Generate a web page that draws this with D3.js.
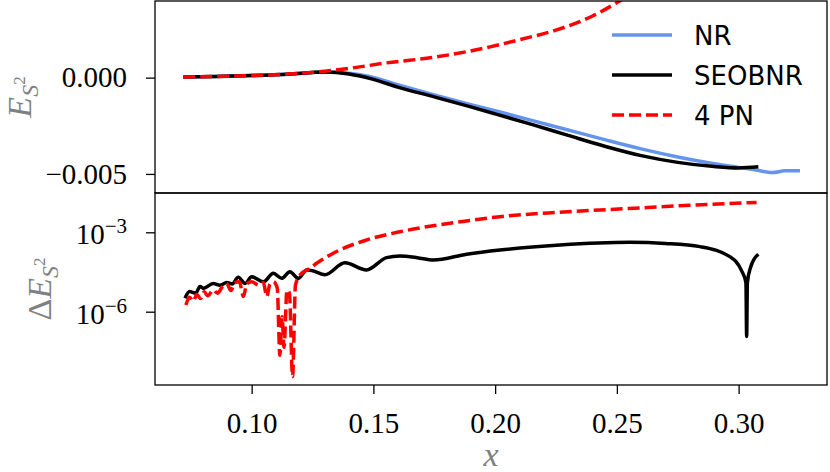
<!DOCTYPE html>
<html>
<head>
<meta charset="utf-8">
<script src="https://cdn.jsdelivr.net/npm/d3@7"></script>
<style>
  body { margin: 0; background: #fff; }
  svg { display: block; }
</style>
</head>
<body>
<div class="display"></div>
<script>
// Energy (top) and its error (bottom) against x

const WIDTH = 830;
const HEIGHT = 472;
const LEFT = 155; // left edge of both panels
const RIGHT = 827; // right edge of both panels
const TOP = 1; // top of upper panel
const MID = 193; // shared border between panels
const BOTTOM = 385; // bottom of lower panel
const SERIF = '"Liberation Serif", "Times New Roman", serif';
const LW = 3.5; // line width of curves

// upper panel: E_{S^2}
const nrX = [0.0719, 0.085, 0.10, 0.115, 0.13, 0.14, 0.15, 0.16, 0.175, 0.19, 0.20, 0.215, 0.23, 0.245, 0.26, 0.275, 0.29, 0.30, 0.306, 0.314, 0.319, 0.3252];
const nrE = [0.00003, 0.00006, 0.00011, 0.00018, 0.00029, 0.00023, 0.00001, -0.00037, -0.00090, -0.00140, -0.00172, -0.00222, -0.00272, -0.00322, -0.00370, -0.00412, -0.00447, -0.00466, -0.00477, -0.00493, -0.00484, -0.00483];

const seobX = [0.0719, 0.085, 0.10, 0.115, 0.13, 0.14, 0.15, 0.16, 0.175, 0.19, 0.20, 0.215, 0.23, 0.245, 0.26, 0.275, 0.29, 0.30, 0.3081];
const seobE = [0.00003, 0.00006, 0.00011, 0.00018, 0.00029, 0.00019, -0.00009, -0.00049, -0.00100, -0.00152, -0.00188, -0.00243, -0.00300, -0.00356, -0.00405, -0.00440, -0.00462, -0.00469, -0.00463];

const pnX = [0.0719, 0.085, 0.10, 0.115, 0.13, 0.14, 0.155, 0.175, 0.1979, 0.21, 0.2253, 0.24, 0.2506, 0.26, 0.27];
const pnE = [0.00003, 0.00006, 0.00011, 0.00019, 0.00033, 0.00048, 0.00076, 0.00106, 0.0016, 0.00197, 0.00248, 0.0032, 0.00394, 0.0047, 0.0056];

// lower panel: Delta E_{S^2}
const seobDX = [0.0726, 0.0745, 0.0770, 0.0788, 0.0802, 0.0842, 0.0870, 0.0897, 0.0920, 0.0945, 0.0973, 0.1000, 0.1048, 0.1089, 0.1123, 0.1157, 0.1192, 0.1226, 0.1250, 0.1301, 0.1383, 0.1472, 0.1554, 0.1609, 0.1680, 0.1746, 0.1883, 0.2020, 0.2266, 0.2554, 0.2700, 0.2841, 0.2964, 0.3012, 0.3030, 0.3033, 0.3036, 0.3050, 0.3081];
const seobDE = [3.24e-6, 5.75e-6, 5.01e-6, 8.91e-6, 7.59e-6, 1.17e-5, 1.0e-5, 1.26e-5, 1.12e-5, 2.0e-5, 1.17e-5, 2.09e-5, 1.35e-5, 2.82e-5, 1.82e-5, 3.24e-5, 1.82e-5, 3.80e-5, 3.55e-5, 2.51e-5, 7.08e-5, 3.80e-5, 1.10e-4, 1.26e-4, 1.10e-4, 8.91e-5, 1.48e-4, 2.14e-4, 3.31e-4, 4.17e-4, 3.80e-4, 2.88e-4, 1.20e-4, 3.55e-5, 1.26e-5, 1.15e-7, 1.26e-5, 5.01e-5, 1.48e-4];

const pnDX = [0.0730, 0.0745, 0.0760, 0.0775, 0.0790, 0.0805, 0.0820, 0.0842, 0.0860, 0.0880, 0.0897, 0.0915, 0.0930, 0.0950, 0.0966, 0.0980, 0.1000, 0.1030, 0.1048, 0.1062, 0.1075, 0.1089, 0.1105, 0.1116, 0.1125, 0.1133, 0.1145, 0.1155, 0.1168, 0.1180, 0.1199, 0.1240, 0.1267, 0.1335, 0.1472, 0.1609, 0.1746, 0.1883, 0.2020, 0.2266, 0.2550, 0.2800, 0.3074];
const pnDE = [1.78e-6, 3.55e-6, 2.51e-6, 4.47e-6, 3.16e-6, 5.62e-6, 3.98e-6, 6.61e-6, 5.01e-6, 8.91e-6, 1.17e-5, 6.31e-6, 1.26e-5, 1.35e-5, 3.72e-6, 1.12e-5, 1.35e-5, 1.0e-5, 1.26e-5, 3.72e-6, 1.12e-5, 1.35e-5, 7.94e-6, 2.24e-8, 6.46e-7, 4.47e-8, 6.61e-6, 5.01e-6, 3.55e-9, 1.0e-5, 2.45e-5, 4.37e-5, 6.76e-5, 1.62e-4, 5.13e-4, 1.05e-3, 1.78e-3, 2.69e-3, 3.89e-3, 5.75e-3, 7.94e-3, 1.05e-2, 1.35e-2];

const xTicks = [0.10, 0.15, 0.20, 0.25, 0.30];
const topTicks = [0, -0.005];
const botTicks = [1e-3, 1e-6];
const botTickExp = ['−3', '−6'];

const legendItems = [
  { name: 'NR', color: '#6495ed', dash: null },
  { name: 'SEOBNR', color: '#000', dash: null },
  { name: '4 PN', color: '#ff0000', dash: '12,5' }
];

const svg = d3.select('.display')
  .append('svg')
  .attr('width', WIDTH)
  .attr('height', HEIGHT);

const x = d3.scaleLinear().domain([0.0603, 0.3363]).range([LEFT, RIGHT]);
const yTop = d3.scaleLinear().domain([-0.00599, 0.00398]).range([MID, TOP]);
const yBot = d3.scaleLog().domain([Math.pow(10, -8.77), Math.pow(10, -1.515)]).range([BOTTOM, MID]);

const defs = svg.append('defs');
defs.append('clipPath').attr('id', 'clip-top')
  .append('rect').attr('x', LEFT).attr('y', TOP).attr('width', RIGHT - LEFT).attr('height', MID - TOP);
defs.append('clipPath').attr('id', 'clip-bot')
  .append('rect').attr('x', LEFT).attr('y', MID).attr('width', RIGHT - LEFT).attr('height', BOTTOM - MID);

function drawLine(g, xs, ys, yScale, color, dash) {
  const pts = xs.map((d, i) => [d, ys[i]]);
  const line = d3.line()
    .x(d => x(d[0]))
    .y(d => yScale(d[1]))
    .curve(d3.curveMonotoneX);
  g.append('path')
    .datum(pts)
    .attr('d', line)
    .attr('fill', 'none')
    .attr('stroke', color)
    .attr('stroke-width', LW)
    .attr('stroke-linejoin', 'round')
    .attr('stroke-dasharray', dash);
}

// upper panel curves
const topG = svg.append('g').attr('clip-path', 'url(#clip-top)');
drawLine(topG, nrX, nrE, yTop, '#6495ed', null);
drawLine(topG, seobX, seobE, yTop, '#000', null);
drawLine(topG, pnX, pnE, yTop, '#ff0000', '12,5');

// lower panel curves
const botG = svg.append('g').attr('clip-path', 'url(#clip-bot)');
drawLine(botG, seobDX, seobDE, yBot, '#000', null);
drawLine(botG, pnDX, pnDE, yBot, '#ff0000', '12,5');

// frames
[[TOP, MID], [MID, BOTTOM]].forEach(([t, b]) => {
  svg.append('rect')
    .attr('x', LEFT).attr('y', t)
    .attr('width', RIGHT - LEFT).attr('height', b - t)
    .attr('fill', 'none')
    .attr('stroke', '#000')
    .attr('stroke-width', 1.3);
});

// axes
function styleAxis(g) {
  g.select('.domain').remove();
  g.selectAll('.tick line').attr('stroke', '#000').attr('stroke-width', 1.3);
  g.selectAll('.tick text')
    .style('font-family', SERIF)
    .style('font-size', '29px')
    .attr('fill', '#000');
}

svg.append('g')
  .attr('transform', `translate(0,${BOTTOM})`)
  .call(d3.axisBottom(x).tickValues(xTicks).tickFormat(d3.format('.2f')).tickSize(9).tickPadding(18))
  .call(styleAxis);

svg.append('g')
  .attr('transform', `translate(${LEFT},0)`)
  .call(d3.axisLeft(yTop).tickValues(topTicks).tickFormat(d3.format('.3f')).tickSize(9).tickPadding(19))
  .call(styleAxis);

const botAxis = svg.append('g')
  .attr('transform', `translate(${LEFT},0)`)
  .call(d3.axisLeft(yBot).tickValues(botTicks).tickFormat(() => '').tickSize(9).tickPadding(19))
  .call(styleAxis);

botAxis.selectAll('.tick text')
  .attr('dy', '0.4em')
  .each(function(d, i) {
    const t = d3.select(this);
    t.append('tspan').text('10');
    t.append('tspan').attr('dy', -11).style('font-size', '21px').text(botTickExp[i]);
  });

// axis labels
function axLabel(tx, ty, rotate) {
  return svg.append('text')
    .attr('transform', `translate(${tx},${ty})` + (rotate ? ' rotate(-90)' : ''))
    .attr('text-anchor', 'middle')
    .style('font-family', SERIF)
    .style('font-size', '34px')
    .attr('fill', '#808080');
}

const topLabel = axLabel(31, (TOP + MID) / 2, true);
topLabel.append('tspan').attr('font-style', 'italic').text('E');
topLabel.append('tspan').attr('font-style', 'italic').style('font-size', '24px').attr('dy', 7).text('S');
topLabel.append('tspan').style('font-size', '17px').attr('dy', -13).text('2');

const botLabel = axLabel(51, (MID + BOTTOM) / 2, true);
botLabel.append('tspan').text('Δ');
botLabel.append('tspan').attr('font-style', 'italic').text('E');
botLabel.append('tspan').attr('font-style', 'italic').style('font-size', '24px').attr('dy', 7).text('S');
botLabel.append('tspan').style('font-size', '17px').attr('dy', -13).text('2');

axLabel((LEFT + RIGHT) / 2, 466, false)
  .attr('font-style', 'italic')
  .text('x');

// legend
const legend = svg.append('g');
legendItems.forEach((d, i) => {
  const yy = 35 + i * 40;
  legend.append('line')
    .attr('x1', 612).attr('x2', 672)
    .attr('y1', yy).attr('y2', yy)
    .attr('stroke', d.color)
    .attr('stroke-width', LW)
    .attr('stroke-dasharray', d.dash);
  legend.append('text')
    .attr('x', 694)
    .attr('y', yy + 1)
    .attr('dominant-baseline', 'central')
    .style('font-family', '"DejaVu Sans", sans-serif')
    .style('font-size', '26px')
    .attr('fill', '#000')
    .text(d.name);
});
</script>
</body>
</html>
